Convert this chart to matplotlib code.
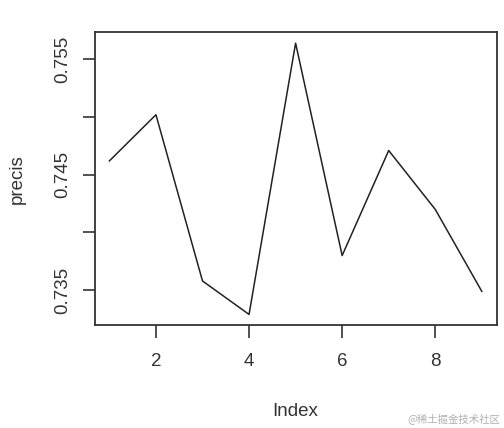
import numpy as np
import matplotlib
matplotlib.use("Agg")
import matplotlib.pyplot as plt

# ---------------------
# DATA
# ---------------------
index = [1, 2, 3, 4, 5, 6, 7, 8, 9]
precis = [0.7462, 0.7502, 0.7358, 0.7329, 0.7564, 0.7380, 0.7471, 0.7420, 0.7349]
x_ticks = [2, 4, 6, 8]
y_ticks = [0.735, 0.740, 0.745, 0.750, 0.755]
y_labels = ["0.735", "", "0.745", "", "0.755"]

plt.rcParams['font.family'] = ['Liberation Sans', 'DejaVu Sans']

fig = plt.figure(figsize=(5.04, 4.28), dpi=100)
ax = fig.add_axes([0.1875, 0.240, 0.798, 0.6845])

ax.plot(index, precis, color='#222222', lw=1.1)

# R-style 4% padding around the data range
xr = max(index) - min(index)
yr = max(precis) - min(precis)
ax.set_xlim(min(index) - 0.04 * xr, max(index) + 0.04 * xr)
ax.set_ylim(min(precis) - 0.04 * yr, max(precis) + 0.04 * yr)

ax.set_xticks(x_ticks)
ax.set_yticks(y_ticks)
ax.set_yticklabels(y_labels, rotation=90, va='center')
ax.tick_params(axis='both', length=9, width=1.2, color='#333333',
               labelsize=13.5, labelcolor='#333333')
ax.tick_params(axis='x', pad=11)
ax.tick_params(axis='y', pad=8)

for s in ax.spines.values():
    s.set_linewidth(1.3)
    s.set_color('#333333')

ax.set_xlabel("Index", fontsize=13.5, color='#333333', labelpad=24)
ax.set_ylabel("precis", fontsize=13.5, color='#333333', labelpad=20)

fig.text(0.992, 0.023, "@稀土掘金技术社区", ha='right', va='center', fontsize=7.5,
         color='#b0b0b0', family=['Noto Sans CJK SC', 'DejaVu Sans'])

fig.savefig("out.png", dpi=100)
